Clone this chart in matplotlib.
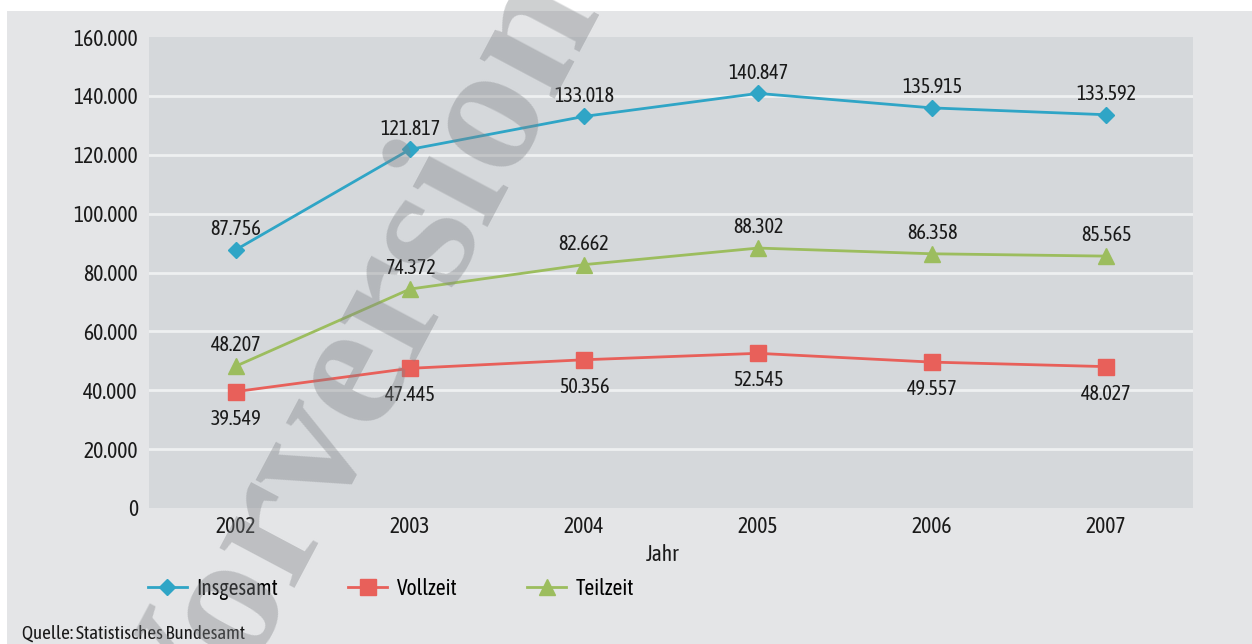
import numpy as np
import matplotlib
matplotlib.use("Agg")
import matplotlib.pyplot as plt
from matplotlib.patches import Rectangle

# Studierende nach Studienform
jahre = ["2002", "2003", "2004", "2005", "2006", "2007"]
insgesamt = [87756, 121817, 133018, 140847, 135915, 133592]
vollzeit = [39549, 47445, 50356, 52545, 49557, 48027]
teilzeit = [48207, 74372, 82662, 88302, 86358, 85565]
y_ticks = [0, 20000, 40000, 60000, 80000, 100000, 120000, 140000, 160000]

BLUE = "#2fa5c6"
RED = "#e8605a"
GREEN = "#9cbd5e"
BG_FIG = "#e4e5e7"
BG_AX = "#d5d8db"
GRID = "#eef0f1"
INK = "#1a1a1a"

plt.rcParams["font.family"] = ["Asap Condensed", "Liberation Sans", "DejaVu Sans"]
plt.rcParams["font.serif"] = ["Liberation Serif", "Times New Roman", "DejaVu Serif"]


def de_fmt(v):
    return f"{v:,}".replace(",", ".")


fig = plt.figure(figsize=(12.52, 6.44), dpi=100, facecolor="white")
# grey panel behind everything, leaving a thin white border top/left
fig.patches.append(Rectangle((7 / 1252, 0), 1, (644 - 11) / 644,
                             transform=fig.transFigure, facecolor=BG_FIG,
                             edgecolor="none", zorder=-10))

ax = fig.add_axes([149 / 1252, 1 - 508 / 644, (1193 - 149) / 1252, (508 - 37) / 644])
ax.set_facecolor(BG_AX)
for s in ax.spines.values():
    s.set_visible(False)

x = np.arange(len(jahre))
series = [
    ("Insgesamt", insgesamt, BLUE, "D", 8.0, "above"),
    ("Vollzeit", vollzeit, RED, "s", 11.5, "below"),
    ("Teilzeit", teilzeit, GREEN, "^", 11.0, "above"),
]
for name, vals, col, mk, ms, pos in series:
    ax.plot(x, vals, color=col, lw=2, marker=mk, ms=ms, mec=col, mfc=col,
            label=name, zorder=3)
    for xi, v in zip(x, vals):
        dy = 15 if pos == "above" else -19.5
        ax.annotate(de_fmt(v), (xi, v), xytext=(0, dy), textcoords="offset points",
                    ha="center", va="center", fontsize=14.5, color=INK)

ax.set_xlim(-0.5, len(jahre) - 0.5)
ax.set_ylim(0, 160000)
ax.set_xticks(x)
ax.set_xticklabels(jahre)
ax.set_yticks(y_ticks)
ax.set_yticklabels([de_fmt(t) for t in y_ticks])
ax.tick_params(axis="both", length=0, labelsize=15.5, colors=INK)
ax.tick_params(axis="y", pad=8)
ax.tick_params(axis="x", pad=6)

ax.yaxis.grid(True, color=GRID, lw=2)
ax.set_axisbelow(True)
gl = ax.get_ygridlines()
gl[0].set_visible(False)
gl[-1].set_visible(False)

ax.set_xlabel("Jahr", fontsize=15.5, color=INK, labelpad=4)
ax.xaxis.label.set_x((663 - 149) / (1193 - 149))

fig.legend(loc="center left", bbox_to_anchor=(148 / 1252, 1 - 589 / 644),
           ncol=3, frameon=False, fontsize=15.5, handlelength=1.8,
           handletextpad=0.45, columnspacing=3.25, borderpad=0, borderaxespad=0)

fig.text(22 / 1252, 1 - 634 / 644, "Quelle: Statistisches Bundesamt",
         fontsize=13.7, color=INK, ha="left", va="center")

# diagonal watermark
fig.text(397 / 1252, 1 - 391 / 644, "Vorversion", family="serif",
         fontsize=133, fontweight="bold", color="#7f8286", alpha=0.38, rotation=62,
         rotation_mode="anchor", ha="center", va="baseline", zorder=20)

fig.savefig("out.png", dpi=100, facecolor=fig.get_facecolor())
